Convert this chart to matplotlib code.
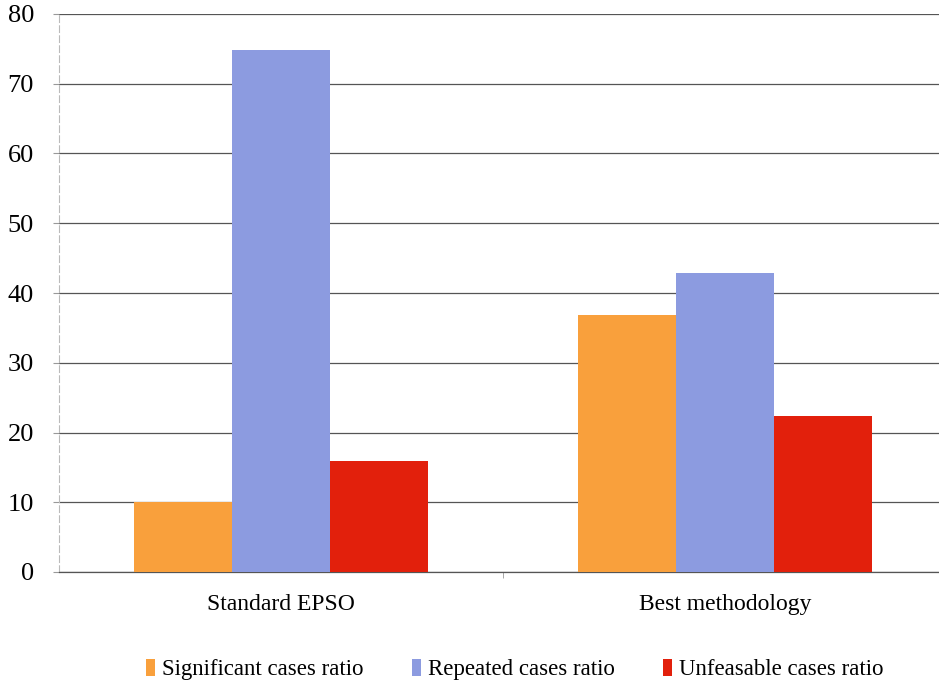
import matplotlib.pyplot as plt
from matplotlib.ticker import FixedLocator
import numpy as np

# values per method
categories = ["Standard EPSO", "Best methodology"]
significant = [10.1, 36.8]
repeated = [74.8, 42.9]
unfeasable = [15.9, 22.4]
series_names = ["Significant cases ratio", "Repeated cases ratio", "Unfeasable cases ratio"]
colors = ["#F9A03C", "#8C9BE0", "#E2200C"]

plt.rcParams["font.family"] = ["Liberation Serif", "DejaVu Serif"]

fig = plt.figure(figsize=(9.39, 6.91), dpi=100)
ax = fig.add_axes([59 / 939, 119 / 691, 888 / 939, 558 / 691])

x = np.arange(len(categories))
width = 0.22
for i, (vals, name, col) in enumerate(zip([significant, repeated, unfeasable], series_names, colors)):
    ax.bar(x + (i - 1) * width, vals, width, color=col, label=name, zorder=3)

ax.set_xlim(-0.5, 1.5)
ax.set_ylim(0, 80)
ax.set_yticks(range(0, 81, 10))
ax.yaxis.grid(True, color="#555555", linewidth=0.9, zorder=0)
ax.set_axisbelow(True)

for side in ["top", "right"]:
    ax.spines[side].set_visible(False)
ax.spines["bottom"].set_color("#555555")
ax.spines["bottom"].set_linewidth(0.9)
ax.spines["left"].set_color("#bbbbbb")
ax.spines["left"].set_linestyle((0, (6, 3)))
ax.spines["left"].set_linewidth(0.8)

ax.tick_params(axis="y", length=4, color="#999999", pad=14, labelsize=19)
ax.set_xticks(x)
ax.set_xticklabels(categories)
ax.tick_params(axis="x", length=0, pad=16, labelsize=17)
ax.xaxis.set_minor_locator(FixedLocator([0.5]))
ax.tick_params(axis="x", which="minor", length=4, color="#999999")

fig.legend(loc="center", bbox_to_anchor=(0.548, 0.031), ncol=3, frameon=False,
           handlelength=0.4, handleheight=0.75, handletextpad=0.3,
           columnspacing=2.1, fontsize=16.5)

fig.savefig("out.png", dpi=100)
